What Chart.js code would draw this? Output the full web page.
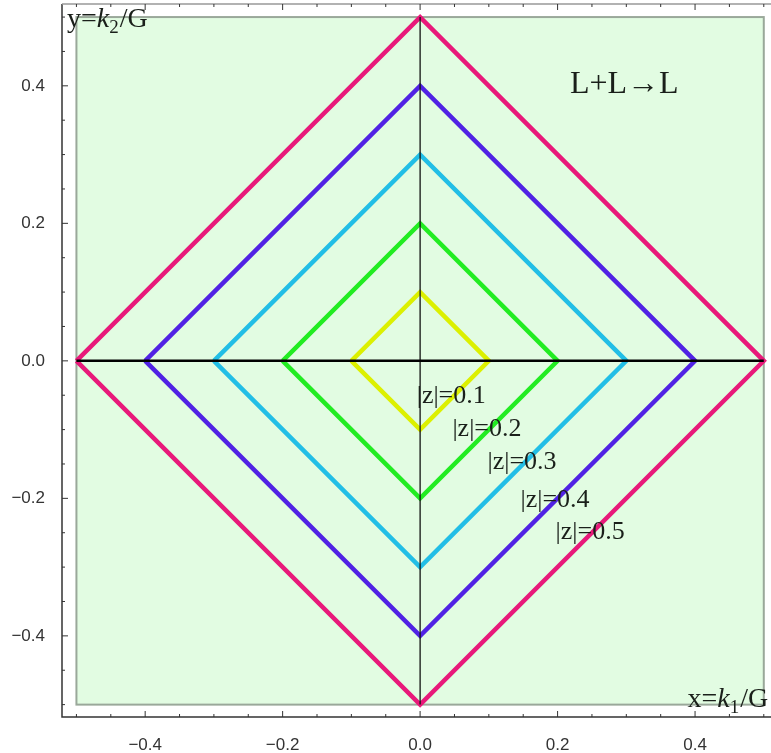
<!DOCTYPE html>
<html>
<head>
<meta charset="utf-8">
<script src="https://cdn.jsdelivr.net/npm/chart.js@4"></script>
<style>
    html, body { margin: 0; padding: 0; background: #ffffff; }
    #wrap { width: 771px; height: 753px; }
</style>
</head>
<body>
<div id="wrap"><canvas id="chart" width="771" height="753"></canvas></div>
<script>
// diamond vertices for each |z| level
const z1 = [[-0.1, 0], [0, 0.1], [0.1, 0], [0, -0.1], [-0.1, 0]];
const z2 = [[-0.2, 0], [0, 0.2], [0.2, 0], [0, -0.2], [-0.2, 0]];
const z3 = [[-0.3, 0], [0, 0.3], [0.3, 0], [0, -0.3], [-0.3, 0]];
const z4 = [[-0.4, 0], [0, 0.4], [0.4, 0], [0, -0.4], [-0.4, 0]];
const z5 = [[-0.5, 0], [0, 0.5], [0.5, 0], [0, -0.5], [-0.5, 0]];
const seriesNames = ["|z|=0.1", "|z|=0.2", "|z|=0.3", "|z|=0.4", "|z|=0.5"];
const seriesColors = ["#dcf000", "#22ec22", "#22bee6", "#5022e4", "#e8197a"];

// zero axes inside the plot region
const hAxis = [[-0.5, 0], [0.5, 0]];
const vAxis = [[0, -0.5], [0, 0.5]];

// where the |z| captions sit (data coords, left edge / middle)
const labelPos = [[-0.005, -0.052], [0.047, -0.100], [0.098, -0.148], [0.146, -0.202], [0.197, -0.249]];

const tickValues = [-0.4, -0.2, 0, 0.2, 0.4];
const minorTicks = [-0.5, -0.45, -0.4, -0.35, -0.3, -0.25, -0.2, -0.15, -0.1, -0.05, 0,
    0.05, 0.1, 0.15, 0.2, 0.25, 0.3, 0.35, 0.4, 0.45, 0.5];
const plotBox = [-0.5, 0.5];

const toXY = arr => arr.map(p => ({ x: p[0], y: p[1] }));
const fmt = v => {
    const s = Math.abs(v).toFixed(1);
    return v < -1e-9 ? "\u2212" + s : s;
};

const diamonds = [z1, z2, z3, z4, z5].map((d, i) => ({
    label: seriesNames[i],
    data: toXY(d),
    borderColor: seriesColors[i],
    borderWidth: 4.5,
    pointRadius: 0,
    fill: false,
    tension: 0,
    order: 2
}));

const framePlugin = {
    id: "frame",
    beforeDatasetsDraw(chart) {
        const { ctx, scales: { x, y } } = chart;
        const l = x.getPixelForValue(plotBox[0]), r = x.getPixelForValue(plotBox[1]);
        const t = y.getPixelForValue(plotBox[1]), b = y.getPixelForValue(plotBox[0]);
        ctx.save();
        ctx.fillStyle = "#e2fce2";
        ctx.fillRect(l, t, r - l, b - t);
        ctx.strokeStyle = "#9aa89a";
        ctx.lineWidth = 2;
        ctx.strokeRect(l, t, r - l, b - t);
        ctx.restore();
    },
    afterDraw(chart) {
        const { ctx, chartArea: a, scales: { x, y } } = chart;
        ctx.save();
        // frame lines
        ctx.strokeStyle = "#333";
        ctx.lineWidth = 1.5;
        ctx.beginPath();
        ctx.moveTo(a.left, a.top);
        ctx.lineTo(a.left, a.bottom);
        ctx.lineTo(a.right, a.bottom);
        ctx.stroke();
        ctx.strokeStyle = "#999";
        ctx.beginPath();
        ctx.moveTo(a.left, a.top);
        ctx.lineTo(a.right, a.top);
        ctx.stroke();

        // tick marks pointing inward
        ctx.strokeStyle = "#333";
        ctx.lineWidth = 1;
        minorTicks.forEach(v => {
            const major = tickValues.some(t => Math.abs(t - v) < 1e-9);
            const len = major ? 6 : 3;
            const px = x.getPixelForValue(v);
            const py = y.getPixelForValue(v);
            ctx.beginPath();
            ctx.moveTo(px, a.bottom); ctx.lineTo(px, a.bottom - len);
            ctx.moveTo(px, a.top); ctx.lineTo(px, a.top + len);
            ctx.moveTo(a.left, py); ctx.lineTo(a.left + len, py);
            ctx.stroke();
        });

        // |z| captions
        ctx.fillStyle = "#1a1f1a";
        ctx.font = "26px 'Liberation Serif', serif";
        ctx.textAlign = "left";
        ctx.textBaseline = "middle";
        labelPos.forEach((p, i) => {
            ctx.fillText(seriesNames[i], x.getPixelForValue(p[0]), y.getPixelForValue(p[1]));
        });

        // process title
        ctx.font = "32px 'Liberation Serif', serif";
        ctx.fillText("L+L\u2192L", x.getPixelForValue(0.218), y.getPixelForValue(0.402));

        // axis names
        const drawName = (pre, sub, post, px, py) => {
            ctx.textBaseline = "alphabetic";
            ctx.font = "28px 'Liberation Serif', serif";
            ctx.fillText(pre, px, py);
            let w = ctx.measureText(pre).width;
            ctx.font = "italic 28px 'Liberation Serif', serif";
            ctx.fillText("k", px + w, py);
            w += ctx.measureText("k").width;
            ctx.font = "19px 'Liberation Serif', serif";
            ctx.fillText(sub, px + w, py + 6);
            w += ctx.measureText(sub).width + 1;
            ctx.font = "28px 'Liberation Serif', serif";
            ctx.fillText(post, px + w, py);
        };
        drawName("y=", "2", "/G", a.left + 5, a.top + 23);
        drawName("x=", "1", "/G", x.getPixelForValue(0.389), y.getPixelForValue(-0.504));
        ctx.restore();
    }
};

new Chart(document.getElementById("chart"), {
    type: "line",
    data: {
        datasets: [
            ...diamonds,
            { data: toXY(hAxis), borderColor: "#000", borderWidth: 2.5, pointRadius: 0, order: 1 },
            { data: toXY(vAxis), borderColor: "#111", borderWidth: 1.3, pointRadius: 0, order: 1 }
        ]
    },
    plugins: [framePlugin],
    options: {
        responsive: false,
        animation: false,
        layout: { padding: { top: 4, right: 0, left: 0, bottom: 0 } },
        plugins: { legend: { display: false }, tooltip: { enabled: false } },
        scales: {
            x: {
                type: "linear",
                min: -0.521,
                max: 0.5105,
                grid: { display: false },
                border: { display: false },
                afterBuildTicks: s => { s.ticks = tickValues.map(v => ({ value: v })); },
                afterFit: s => { s.height = 36; s.paddingRight = 0; },
                ticks: {
                    padding: 10,
                    color: "#333",
                    font: { family: "'Liberation Sans', Arial, sans-serif", size: 17 },
                    callback: v => fmt(v),
                    maxRotation: 0,
                    autoSkip: false
                }
            },
            y: {
                type: "linear",
                min: -0.518,
                max: 0.519,
                grid: { display: false },
                border: { display: false },
                afterBuildTicks: s => { s.ticks = tickValues.map(v => ({ value: v })); },
                afterFit: s => { s.width = 62; s.paddingTop = 0; s.paddingBottom = 0; },
                ticks: {
                    padding: 9,
                    color: "#333",
                    font: { family: "'Liberation Sans', Arial, sans-serif", size: 17 },
                    callback: v => fmt(v),
                    autoSkip: false
                }
            }
        }
    }
});
</script>
</body>
</html>
